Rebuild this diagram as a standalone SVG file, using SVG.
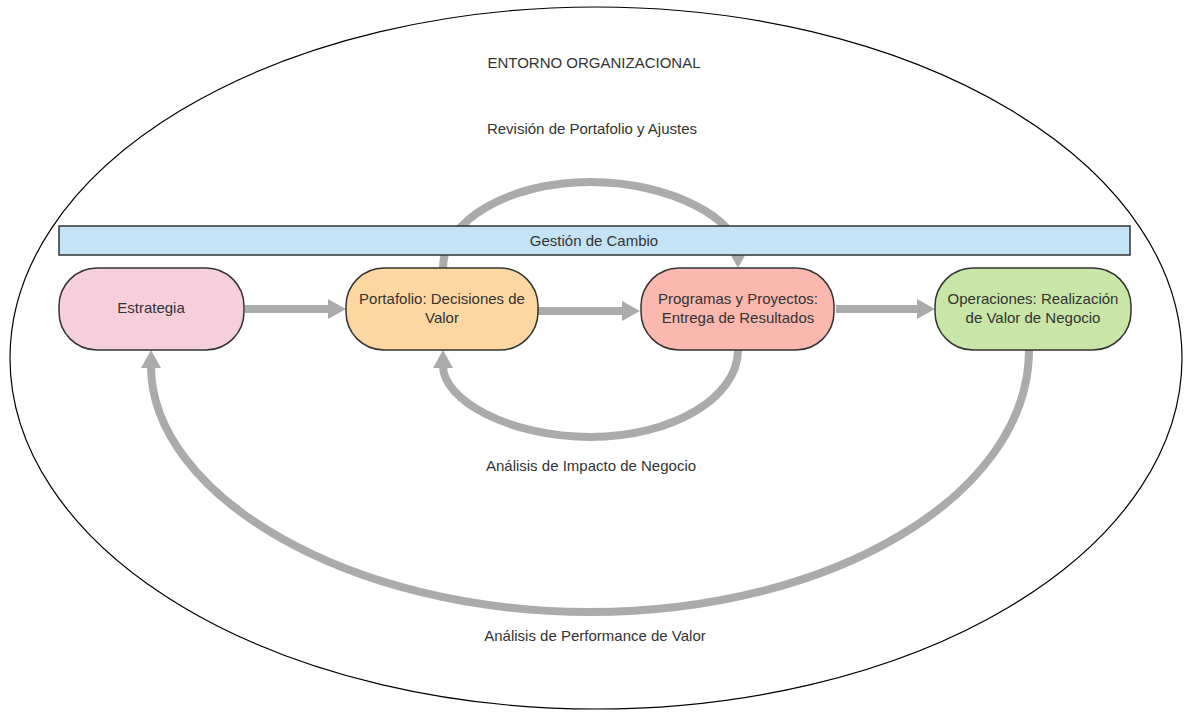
<svg xmlns="http://www.w3.org/2000/svg" width="1185" height="712" viewBox="0 0 1185 712">
<style>
text{font-family:"Liberation Sans",Arial,sans-serif;font-size:15px;fill:#333333;text-anchor:middle}
.node{stroke:#333333;stroke-width:1.5}
.conn{fill:none;stroke:#ababab;stroke-width:8;marker-end:url(#ah)}
</style>
<defs>
<marker id="ah" markerUnits="userSpaceOnUse" markerWidth="18" markerHeight="20" viewBox="0 0 18 20" refX="2" refY="10" orient="auto">
<path d="M0,0 L18,10 L0,20 z" fill="#ababab"/>
</marker>
</defs>
<rect width="1185" height="712" fill="#ffffff"/>
<g id="entorno">
<ellipse cx="596" cy="358" rx="586" ry="351" fill="none" stroke="#000000" stroke-width="1.2"/>
<text x="594" y="68">ENTORNO ORGANIZACIONAL</text>
</g>
<g id="labels">
<text x="592" y="134">Revisión de Portafolio y Ajustes</text>
<text x="591" y="471">Análisis de Impacto de Negocio</text>
<text x="595" y="641">Análisis de Performance de Valor</text>
</g>
<g id="connectors">
<path class="conn" d="M443,268 C443,220.5 509,182 590.5,182 C672,182 738,220.5 738,252"/>
<path class="conn" d="M245,309 L330,309"/>
<path class="conn" d="M538,311 L624,311"/>
<path class="conn" d="M836,309 L919,309"/>
<path class="conn" d="M738,350 C738,398 671.5,437 590.5,437 C509.5,437 443,400 443,366"/>
<path class="conn" d="M1029,350 C1029,494.7 832.5,612 590,612 C347.5,612 151,494.7 151,366"/>
</g>
<g id="gestion">
<rect x="59" y="226" width="1071" height="29" fill="#c5e3f6" stroke="#333333" stroke-width="1.5"/>
<text x="594" y="246">Gestión de Cambio</text>
</g>
<g id="estrategia">
<rect class="node" x="59" y="268" width="185" height="82" rx="38" ry="38" fill="#f6cfdc"/>
<text x="151" y="313">Estrategia</text>
</g>
<g id="portafolio">
<rect class="node" x="346" y="268" width="192" height="82" rx="38" ry="38" fill="#fcd7a1"/>
<text x="442" y="304">Portafolio: Decisiones de</text>
<text x="442" y="323">Valor</text>
</g>
<g id="programas">
<rect class="node" x="641" y="268" width="193" height="82" rx="38" ry="38" fill="#fbb8ae"/>
<text x="738" y="304">Programas y Proyectos:</text>
<text x="738" y="323">Entrega de Resultados</text>
</g>
<g id="operaciones">
<rect class="node" x="935" y="268" width="196" height="82" rx="38" ry="38" fill="#c8e6a7"/>
<text x="1033" y="304">Operaciones: Realización</text>
<text x="1033" y="323">de Valor de Negocio</text>
</g>
</svg>
